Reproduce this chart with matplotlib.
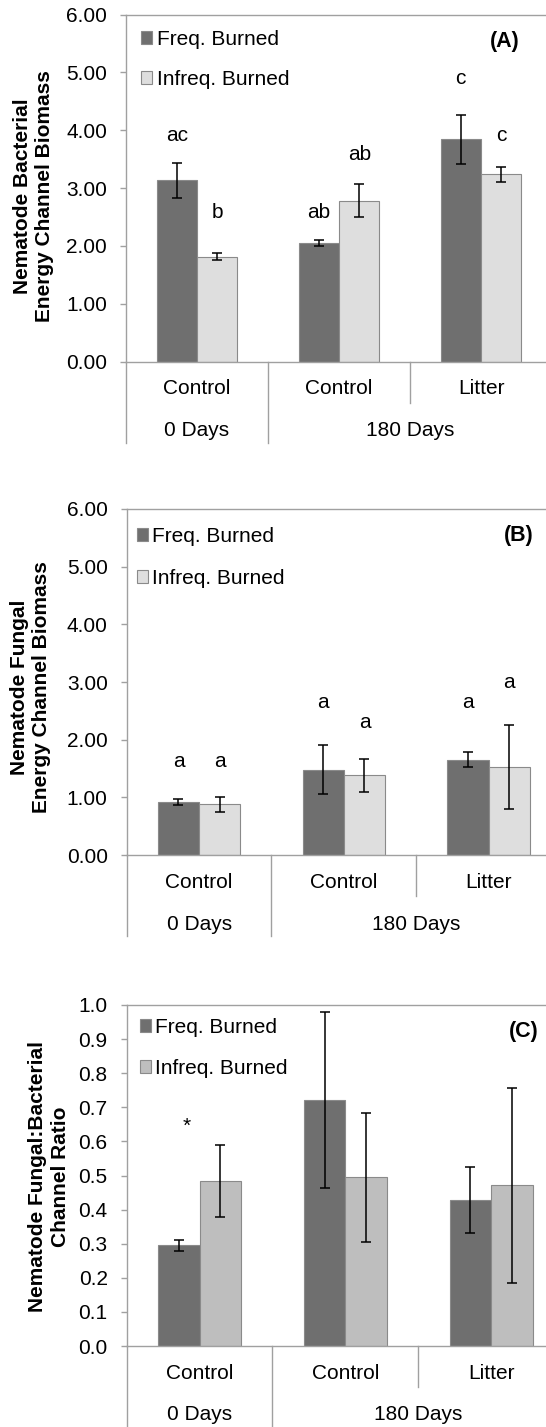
import matplotlib
matplotlib.use("Agg")
import matplotlib.pyplot as plt
from matplotlib.patches import Patch
from matplotlib.ticker import MultipleLocator, FormatStrFormatter
import numpy as np

plt.rcParams['font.family'] = ['Liberation Sans', 'DejaVu Sans']

W, H = 546, 1427

groups = ['Control', 'Control', 'Litter']
periods = ['0 Days', '180 Days']
series = ['Freq. Burned', 'Infreq. Burned']

# (A) bacterial energy channel biomass
bact_freq = [3.13, 2.05, 3.84]
bact_freq_se = [0.31, 0.05, 0.43]
bact_infreq = [1.81, 2.78, 3.24]
bact_infreq_se = [0.06, 0.29, 0.13]
bact_freq_sig = ['ac', 'ab', 'c']
bact_infreq_sig = ['b', 'ab', 'c']
bact_freq_sig_y = [3.91, 2.58, 4.90]
bact_infreq_sig_y = [2.58, 3.58, 3.91]

# (B) fungal energy channel biomass
fung_freq = [0.92, 1.48, 1.65]
fung_freq_se = [0.05, 0.42, 0.13]
fung_infreq = [0.88, 1.38, 1.52]
fung_infreq_se = [0.13, 0.29, 0.73]
fung_freq_sig = ['a', 'a', 'a']
fung_infreq_sig = ['a', 'a', 'a']
fung_freq_sig_y = [1.62, 2.64, 2.64]
fung_infreq_sig_y = [1.62, 2.29, 2.99]

# (C) fungal:bacterial ratio
ratio_freq = [0.295, 0.722, 0.429]
ratio_freq_se = [0.016, 0.258, 0.097]
ratio_infreq = [0.484, 0.495, 0.471]
ratio_infreq_se = [0.106, 0.189, 0.285]
ratio_freq_sig = ['*', '', '']
ratio_infreq_sig = ['', '', '']
ratio_freq_sig_y = [0.645, 0, 0]
ratio_infreq_sig_y = [0, 0, 0]

DARK = '#6f6f6f'
LIGHT_AB = '#dedede'
LIGHT_C = '#bebebe'
EDGE = '#8a8a8a'
AXC = '#a0a0a0'
FS = 15
BW = 0.285

fig = plt.figure(figsize=(W / 100, H / 100), dpi=100)


def add_axes_px(left, top, right, bottom):
    return fig.add_axes([left / W, 1 - bottom / H, (right - left) / W, (bottom - top) / H])


def panel(box, freq, freq_se, infreq, infreq_se, fsig, isig, fsig_y, isig_y,
          light, ymax, step, fmt, ylabel, ylabel_px, tag, tag_px, legend_px,
          legend_gap=1.0, star_dx=0.0):
    ax = add_axes_px(*box)
    h = box[3] - box[1]
    x = np.arange(len(groups))

    ax.bar(x - BW / 2, freq, BW, color=DARK, edgecolor=EDGE, linewidth=0.8, zorder=2)
    ax.bar(x + BW / 2, infreq, BW, color=light, edgecolor=EDGE, linewidth=0.8, zorder=2)
    ax.errorbar(x - BW / 2, freq, yerr=freq_se, fmt='none', ecolor='black',
                elinewidth=1.1, capsize=3.8, capthick=1.1, zorder=3)
    ax.errorbar(x + BW / 2, infreq, yerr=infreq_se, fmt='none', ecolor='black',
                elinewidth=1.1, capsize=3.8, capthick=1.1, zorder=3)

    for i in range(len(groups)):
        if fsig[i]:
            dx = star_dx if fsig[i] == '*' else 0.0
            ax.text(x[i] - BW / 2 + dx, fsig_y[i], fsig[i], ha='center', va='center', fontsize=FS)
        if isig[i]:
            ax.text(x[i] + BW / 2, isig_y[i], isig[i], ha='center', va='center', fontsize=FS)

    ax.set_xlim(-0.5, 2.5)
    ax.set_ylim(0, ymax)
    ax.yaxis.set_major_locator(MultipleLocator(step))
    ax.yaxis.set_major_formatter(FormatStrFormatter(fmt))
    ax.tick_params(axis='y', length=4.3, width=1.0, color=AXC, labelsize=FS, pad=9.4)
    ax.set_xticks([])
    ax.spines['right'].set_visible(False)
    for s in ['top', 'left', 'bottom']:
        ax.spines[s].set_color(AXC)
        ax.spines[s].set_linewidth(1.0)

    # two-level category axis
    tr = ax.get_xaxis_transform()
    for xd, depth in [(-0.5, 81), (0.5, 81), (1.5, 41), (2.5, 81)]:
        ax.plot([xd, xd], [0, -depth / h], transform=tr, clip_on=False,
                color=AXC, linewidth=1.0)
    for i, g in enumerate(groups):
        ax.text(x[i], -27.5 / h, g, transform=tr, ha='center', va='center', fontsize=FS)
    ax.text(0, -69 / h, periods[0], transform=tr, ha='center', va='center', fontsize=FS)
    ax.text(1.5, -69 / h, periods[1], transform=tr, ha='center', va='center', fontsize=FS)

    handles = [Patch(facecolor=DARK, edgecolor=EDGE, linewidth=0.8),
               Patch(facecolor=light, edgecolor=EDGE, linewidth=0.8)]
    ax.legend(handles, series, loc='upper left',
              bbox_to_anchor=(legend_px[0] / W, 1 - legend_px[1] / H),
              bbox_transform=fig.transFigure, frameon=False, fontsize=FS,
              handlelength=0.55, handleheight=0.55, handletextpad=0.2,
              labelspacing=legend_gap, borderpad=0, borderaxespad=0)

    fig.text(ylabel_px[0] / W, 1 - ylabel_px[1] / H, ylabel, rotation=90,
             ha='center', va='center', fontsize=FS, fontweight='bold',
             multialignment='center')
    fig.text(tag_px[0] / W, 1 - tag_px[1] / H, tag, ha='center', va='center',
             fontsize=FS + 0.5, fontweight='bold')
    return ax


panel((126, 14.5, 552, 361.5), bact_freq, bact_freq_se, bact_infreq, bact_infreq_se,
      bact_freq_sig, bact_infreq_sig, bact_freq_sig_y, bact_infreq_sig_y,
      LIGHT_AB, 6, 1, '%.2f',
      'Nematode Bacterial\nEnergy Channel Biomass', (34, 196),
      '(A)', (505, 41.7), (141, 30), legend_gap=1.0)

panel((126.7, 509, 561, 855), fung_freq, fung_freq_se, fung_infreq, fung_infreq_se,
      fung_freq_sig, fung_infreq_sig, fung_freq_sig_y, fung_infreq_sig_y,
      LIGHT_AB, 6, 1, '%.2f',
      'Nematode Fungal\nEnergy Channel Biomass', (30.6, 687.5),
      '(B)', (518.5, 536), (136.5, 527), legend_gap=1.1)

panel((126.7, 1005, 564, 1346), ratio_freq, ratio_freq_se, ratio_infreq, ratio_infreq_se,
      ratio_freq_sig, ratio_infreq_sig, ratio_freq_sig_y, ratio_infreq_sig_y,
      LIGHT_C, 1.0, 0.1, '%.1f',
      'Nematode Fungal:Bacterial\nChannel Ratio', (49, 1176.7),
      '(C)', (524, 1031.7), (139.5, 1018), legend_gap=1.05, star_dx=0.055)

fig.savefig('out.png', dpi=100)
